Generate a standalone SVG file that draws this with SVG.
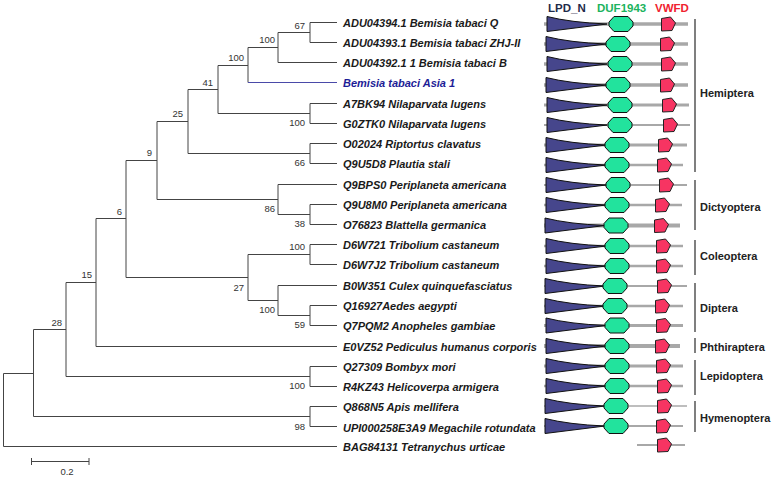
<svg xmlns="http://www.w3.org/2000/svg" width="773" height="478" viewBox="0 0 773 478">
<style>
.br{stroke:#444;stroke-width:1;fill:none}
.blue{stroke:#4a4aa8;stroke-width:1;fill:none}
.leaf{font-family:"Liberation Sans",Arial,sans-serif;font-size:11px;font-weight:bold;font-style:italic;fill:#1a1a1a}
.leafb{fill:#1c1c96}
.bs{font-family:"Liberation Sans",Arial,sans-serif;font-size:9.5px;fill:#333;text-anchor:end}
.ord{font-family:"Liberation Sans",Arial,sans-serif;font-size:11px;font-weight:bold;fill:#222}
.hdr{font-family:"Liberation Sans",Arial,sans-serif;font-size:11.5px;font-weight:bold}
.bk{stroke:#555;stroke-width:1.5}
.ln{stroke:#a8a8a8;fill:none}
.tri{fill:#46468c;stroke:#111;stroke-width:1}
.hex{fill:#22e39d;stroke:#111;stroke-width:1}
.pen{fill:#f73462;stroke:#222;stroke-width:1}
</style>
<defs>
<polygon id="hx" points="-12,-2 -7,-7.5 7,-7.5 12,-2 12,2 7,7.5 -7,7.5 -12,2"/>
<polygon id="pt" points="-6.5,-5.5 2.5,-7 7.5,-1 4,6.5 -6.5,7"/>
<path id="tr" d="M0,-7.5Q24,-1.5 60,0L0,7.5Z"/>
</defs>

<g id="connectors">
<path class="br" d="M310,22.5V42.5M310,22.5H337M310,42.5H337"/>
<path class="br" d="M278,32.5V62.5M278,32.5H310M278,62.5H337"/>
<path class="br" d="M248,47.5V82.5M248,47.5H278"/>
<path class="blue" d="M248,82.5H337"/>
<path class="br" d="M310,103.5V123.5M310,103.5H337M310,123.5H337"/>
<path class="br" d="M218,65.5V113.5M218,65.5H248M218,113.5H310"/>
<path class="br" d="M310,143.5V163.5M310,143.5H337M310,163.5H337"/>
<path class="br" d="M188,89.5V153.5M188,89.5H218M188,153.5H310"/>
<path class="br" d="M310,204.5V224.5M310,204.5H337M310,224.5H337"/>
<path class="br" d="M278,184.5V214.5M278,184.5H337M278,214.5H310"/>
<path class="br" d="M157,121.5V199.5M157,121.5H188M157,199.5H278"/>
<path class="br" d="M310,244.5V264.5M310,244.5H337M310,264.5H337"/>
<path class="br" d="M310,305.5V325.5M310,305.5H337M310,325.5H337"/>
<path class="br" d="M278,285.5V315.5M278,285.5H337M278,315.5H310"/>
<path class="br" d="M248,254.5V300.5M248,254.5H310M248,300.5H278"/>
<path class="br" d="M126,160.5V277.5M126,160.5H157M126,277.5H248"/>
<path class="br" d="M96,218.5V346.5M96,218.5H126M96,346.5H337"/>
<path class="br" d="M310,366.5V386.5M310,366.5H337M310,386.5H337"/>
<path class="br" d="M66,282.5V376.5M66,282.5H96M66,376.5H310"/>
<path class="br" d="M310,406.5V426.5M310,406.5H337M310,426.5H337"/>
<path class="br" d="M33.5,329.5V416.5M33.5,329.5H66M33.5,416.5H310"/>
<path class="br" d="M3.5,373.5V446.5M3.5,373.5H33.5M3.5,446.5H337"/>
<path class="br" d="M31.5,461.5H89M31.5,458V465M89,458V465"/>
</g>

<g id="bootstrap">
<text class="bs" x="305" y="29">67</text>
<text class="bs" x="275" y="43">100</text>
<text class="bs" x="244" y="61">100</text>
<text class="bs" x="213" y="85.5">41</text>
<text class="bs" x="183" y="117">25</text>
<text class="bs" x="152" y="156">9</text>
<text class="bs" x="122" y="214.5">6</text>
<text class="bs" x="92" y="278">15</text>
<text class="bs" x="62" y="325.5">28</text>
<text class="bs" x="305" y="250">100</text>
<text class="bs" x="305" y="126">100</text>
<text class="bs" x="305" y="166">66</text>
<text class="bs" x="275" y="212">86</text>
<text class="bs" x="305" y="227">38</text>
<text class="bs" x="244" y="290.5">27</text>
<text class="bs" x="275" y="313">100</text>
<text class="bs" x="305" y="328">59</text>
<text class="bs" x="305" y="389">100</text>
<text class="bs" x="305" y="430">98</text>
<text class="bs" x="67" y="475" style="text-anchor:middle">0.2</text>
</g>

<g id="leaves">
<g id="n0"><text class="leaf" x="343" y="26.5">ADU04394.1 Bemisia tabaci Q</text></g>
<g id="n1"><text class="leaf" x="343" y="46.5">ADU04393.1 Bemisia tabaci ZHJ-II</text></g>
<g id="n2"><text class="leaf" x="343" y="66.5">ADU04392.1 1 Bemisia tabaci B</text></g>
<g id="n3"><text class="leaf leafb" x="343" y="86.5">Bemisia tabaci Asia 1</text></g>
<g id="n4"><text class="leaf" x="343" y="107.5">A7BK94 Nilaparvata lugens</text></g>
<g id="n5"><text class="leaf" x="343" y="127.5">G0ZTK0 Nilaparvata lugens</text></g>
<g id="n6"><text class="leaf" x="343" y="147.5">O02024 Riptortus clavatus</text></g>
<g id="n7"><text class="leaf" x="343" y="167.5">Q9U5D8 Plautia stali</text></g>
<g id="n8"><text class="leaf" x="343" y="188.5">Q9BPS0 Periplaneta americana</text></g>
<g id="n9"><text class="leaf" x="343" y="208.5">Q9U8M0 Periplaneta americana</text></g>
<g id="n10"><text class="leaf" x="343" y="228.5">O76823 Blattella germanica</text></g>
<g id="n11"><text class="leaf" x="343" y="248.5">D6W721 Tribolium castaneum</text></g>
<g id="n12"><text class="leaf" x="343" y="268.5">D6W7J2 Tribolium castaneum</text></g>
<g id="n13"><text class="leaf" x="343" y="289.5">B0W351 Culex quinquefasciatus</text></g>
<g id="n14"><text class="leaf" x="343" y="309.5">Q16927Aedes aegypti</text></g>
<g id="n15"><text class="leaf" x="343" y="329.5">Q7PQM2 Anopheles gambiae</text></g>
<g id="n16"><text class="leaf" x="343" y="350.5">E0VZ52 Pediculus humanus corporis</text></g>
<g id="n17"><text class="leaf" x="343" y="370.5">Q27309 Bombyx mori</text></g>
<g id="n18"><text class="leaf" x="343" y="390.5">R4KZ43 Helicoverpa armigera</text></g>
<g id="n19"><text class="leaf" x="343" y="410.5">Q868N5 Apis mellifera</text></g>
<g id="n20"><text class="leaf" x="343" y="431.5">UPI000258E3A9 Megachile rotundata</text></g>
<g id="n21"><text class="leaf" x="343" y="451">BAG84131 Tetranychus urticae</text></g>
</g>

<g id="header">
<text class="hdr" x="548" y="12" fill="#1f2b4a">LPD_N</text>
<text class="hdr" x="597" y="12" fill="#1bb35e">DUF1943</text>
<text class="hdr" x="655" y="12" fill="#f0222e">VWFD</text>
</g>

<g id="domains">
<g id="d0"><path class="ln" stroke-width="3.5" d="M544,24H688"/><use href="#tr" class="tri" x="547" y="24"/><use href="#hx" class="hex" x="621" y="24"/><use href="#pt" class="pen" x="668" y="24"/></g>
<g id="d1"><path class="ln" stroke-width="3.5" d="M544,44H688"/><use href="#tr" class="tri" x="546" y="44"/><use href="#hx" class="hex" x="618" y="44"/><use href="#pt" class="pen" x="667" y="44"/></g>
<g id="d2"><path class="ln" stroke-width="3.5" d="M544,64H688"/><use href="#tr" class="tri" x="547" y="64"/><use href="#hx" class="hex" x="620" y="64"/><use href="#pt" class="pen" x="668" y="64"/></g>
<g id="d3"><path class="ln" stroke-width="3.5" d="M544,85H688"/><use href="#tr" class="tri" x="546" y="85"/><use href="#hx" class="hex" x="618" y="85"/><use href="#pt" class="pen" x="667" y="85"/></g>
<g id="d4"><path class="ln" stroke-width="3" d="M544,105H689"/><use href="#tr" class="tri" x="547" y="105"/><use href="#hx" class="hex" x="620" y="105"/><use href="#pt" class="pen" x="669" y="105"/></g>
<g id="d5"><path class="ln" stroke-width="2" d="M544,125H690"/><use href="#tr" class="tri" x="547" y="125"/><use href="#hx" class="hex" x="620" y="125"/><use href="#pt" class="pen" x="670" y="125"/></g>
<g id="d6"><path class="ln" stroke-width="3" d="M544,145H687"/><use href="#tr" class="tri" x="546" y="145"/><use href="#hx" class="hex" x="617" y="145"/><use href="#pt" class="pen" x="665" y="145"/></g>
<g id="d7"><path class="ln" stroke-width="2.5" d="M544,165H683"/><use href="#tr" class="tri" x="546" y="165"/><use href="#hx" class="hex" x="617" y="165"/><use href="#pt" class="pen" x="664" y="165"/></g>
<g id="d8"><path class="ln" stroke-width="2" d="M544,185H687"/><use href="#tr" class="tri" x="546" y="185"/><use href="#hx" class="hex" x="618" y="185"/><use href="#pt" class="pen" x="666" y="185"/></g>
<g id="d9"><path class="ln" stroke-width="2.5" d="M544,205H682"/><use href="#tr" class="tri" x="546" y="205"/><use href="#hx" class="hex" x="617" y="205"/><use href="#pt" class="pen" x="662" y="205"/></g>
<g id="d10"><path class="ln" stroke-width="4" d="M544,225.5H680"/><use href="#tr" class="tri" x="545" y="225.5"/><use href="#hx" class="hex" x="616" y="225.5"/><use href="#pt" class="pen" x="661" y="225.5"/></g>
<g id="d11"><path class="ln" stroke-width="2.5" d="M544,246H683"/><use href="#tr" class="tri" x="546" y="246"/><use href="#hx" class="hex" x="617" y="246"/><use href="#pt" class="pen" x="663" y="246"/></g>
<g id="d12"><path class="ln" stroke-width="2.5" d="M544,266H683"/><use href="#tr" class="tri" x="546" y="266"/><use href="#hx" class="hex" x="617" y="266"/><use href="#pt" class="pen" x="663" y="266"/></g>
<g id="d13"><path class="ln" stroke-width="2" d="M544,286H687"/><use href="#tr" class="tri" x="545" y="286"/><use href="#hx" class="hex" x="615" y="286"/><use href="#pt" class="pen" x="664" y="286"/></g>
<g id="d14"><path class="ln" stroke-width="2.5" d="M544,306H683"/><use href="#tr" class="tri" x="545" y="306"/><use href="#hx" class="hex" x="615" y="306"/><use href="#pt" class="pen" x="662" y="306"/></g>
<g id="d15"><path class="ln" stroke-width="3" d="M544,325.5H683"/><use href="#tr" class="tri" x="546" y="325.5"/><use href="#hx" class="hex" x="617" y="325.5"/><use href="#pt" class="pen" x="663" y="325.5"/></g>
<g id="d16"><path class="ln" stroke-width="4" d="M544,346H680"/><use href="#tr" class="tri" x="546" y="346"/><use href="#hx" class="hex" x="617" y="346"/><use href="#pt" class="pen" x="662" y="346"/></g>
<g id="d17"><path class="ln" stroke-width="3" d="M544,366H683"/><use href="#tr" class="tri" x="546" y="366"/><use href="#hx" class="hex" x="617" y="366"/><use href="#pt" class="pen" x="663" y="366"/></g>
<g id="d18"><path class="ln" stroke-width="2.5" d="M544,386H683"/><use href="#tr" class="tri" x="546" y="386"/><use href="#hx" class="hex" x="617" y="386"/><use href="#pt" class="pen" x="664" y="386"/></g>
<g id="d19"><path class="ln" stroke-width="1.5" d="M544,406H687"/><use href="#tr" class="tri" x="545" y="406"/><use href="#hx" class="hex" x="616" y="406"/><use href="#pt" class="pen" x="664" y="406"/></g>
<g id="d20"><path class="ln" stroke-width="2" d="M544,426H683"/><use href="#tr" class="tri" x="545" y="426"/><use href="#hx" class="hex" x="616" y="426"/><use href="#pt" class="pen" x="663" y="426"/></g>
<g id="d21"><path class="ln" stroke-width="2" d="M637,445H685"/><use href="#pt" class="pen" x="664" y="445"/></g>
</g>

<g id="orders">
<g id="o-hemiptera"><path class="bk" d="M695,19V172"/><text class="ord" x="700" y="97">Hemiptera</text></g>
<g id="o-dictyoptera"><path class="bk" d="M695,180V230"/><text class="ord" x="700" y="211">Dictyoptera</text></g>
<g id="o-coleoptera"><path class="bk" d="M695,240V275"/><text class="ord" x="700" y="260">Coleoptera</text></g>
<g id="o-diptera"><path class="bk" d="M695,283V332"/><text class="ord" x="700" y="312">Diptera</text></g>
<g id="o-phthiraptera"><path class="bk" d="M695,338V353"/><text class="ord" x="700" y="351">Phthiraptera</text></g>
<g id="o-lepidoptera"><path class="bk" d="M695,360V395"/><text class="ord" x="700" y="380">Lepidoptera</text></g>
<g id="o-hymenoptera"><path class="bk" d="M695,401V432"/><text class="ord" x="700" y="422">Hymenoptera</text></g>
</g>
</svg>
